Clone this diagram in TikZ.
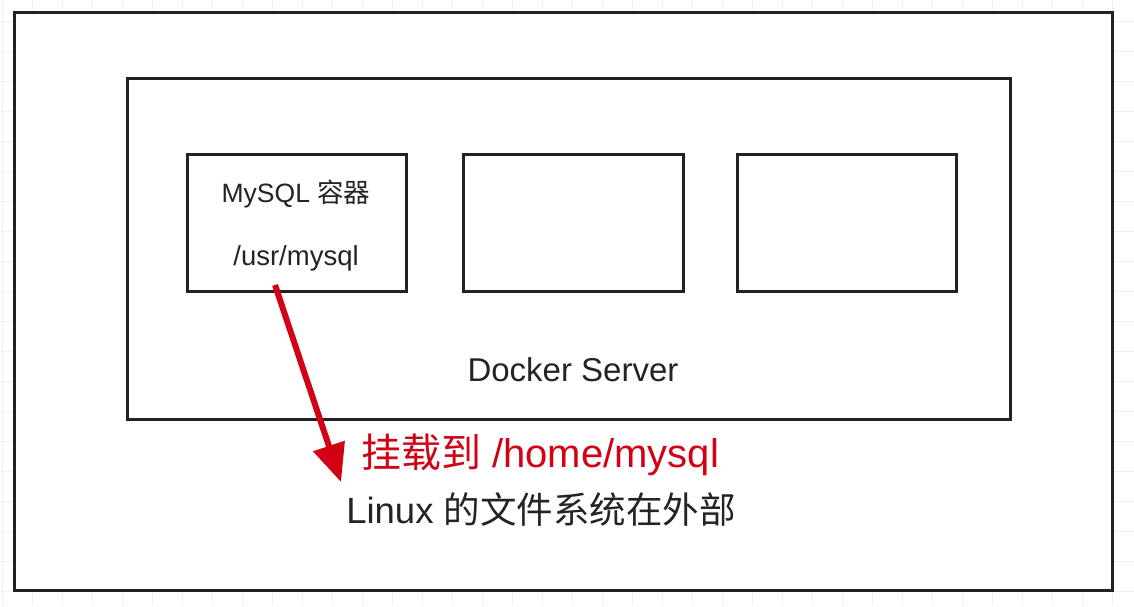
\documentclass[tikz,border=0pt]{standalone}
\usepackage{fontspec}
\setmainfont{Liberation Sans}
\newfontfamily\cjk{Noto Sans CJK SC}
\usetikzlibrary{arrows.meta}
\definecolor{ink}{RGB}{34,34,34}
\definecolor{txt}{RGB}{36,36,36}
\definecolor{mred}{RGB}{208,2,20}
\definecolor{gridc}{RGB}{240,240,240}
\tikzset{
  frame/.style={draw=ink, line width=3pt, fill=white},
  label/.style={text=txt, inner sep=0pt, anchor=center},
}
\begin{document}
\begin{tikzpicture}[x=1pt,y=-1pt]
\useasboundingbox (0,0) rectangle (1134,606);
\fill[white] (0,0) rectangle (1134,606);
% faint background grid
\foreach \gx in {2,32,...,1134} \draw[gridc, line width=1pt] (\gx,0) -- (\gx,606);
\foreach \gy in {21,51,...,606} \draw[gridc, line width=1pt] (0,\gy) -- (1134,\gy);
% outer and inner frames
\draw[frame] (14,12) rectangle (1112,590);
\draw[frame] (127,78) rectangle (1010,419);
% three container boxes
\node[frame, minimum width=219pt, minimum height=137pt, anchor=north west] (mysql) at (186,153) {};
\node[frame, minimum width=220pt, minimum height=137pt, anchor=north west] (box2) at (462,153) {};
\node[frame, minimum width=219pt, minimum height=137pt, anchor=north west] (box3) at (736,153) {};
% texts
\node[label, font=\fontsize{26.5}{30}\selectfont] (t1) at (296,194) {MySQL {\cjk 容器}};
\node[label, font=\fontsize{27.5}{30}\selectfont] (t2) at (296,258) {/usr/mysql};
\node[label, font=\fontsize{33}{38}\selectfont] (ds) at (573,370) {Docker Server};
\node[label, text=mred, font=\fontsize{40}{46}\selectfont] (mount) at (540,455) {{\cjk 挂载到} /home/mysql};
\node[label, font=\fontsize{36.5}{42}\selectfont] (linux) at (541,509) {Linux {\cjk 的文件系统在外部}};
% arrow
\coordinate (a0) at (275,285);
\coordinate (a1) at (341,482);
\draw[mred, line width=6pt, -{Triangle[length=38pt,width=32pt]}] (a0) -- (a1);
\end{tikzpicture}
\end{document}
